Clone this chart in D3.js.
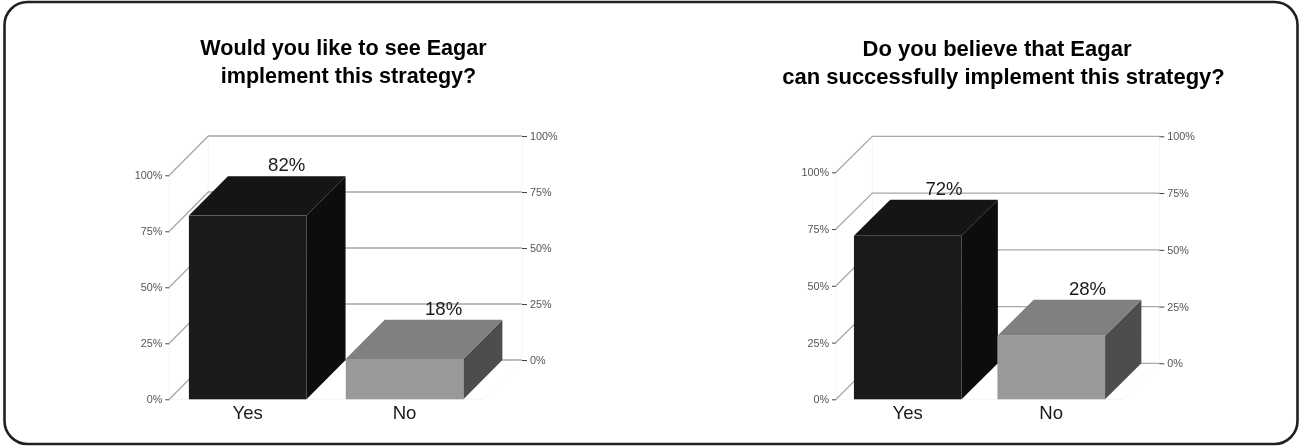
<!DOCTYPE html>
<html><head><meta charset="utf-8">
<script src="https://cdn.jsdelivr.net/npm/d3@7"></script>
<style>html,body{margin:0;padding:0;background:#fff}svg{display:block;filter:blur(0.35px)}text{font-family:"Liberation Sans",Arial,sans-serif}</style>
</head><body><svg id="c" width="1299" height="446"></svg>
<script>
const categories = ["Yes", "No"];
const valuesA = [82, 18];
const valuesB = [72, 28];
const tickValues = [0, 25, 50, 75, 100];
const titleA = ["Would you like to see Eagar", "implement this strategy?"];
const titleB = ["Do you believe that Eagar", "can successfully implement this strategy?"];

const svg = d3.select("#c");
svg.append("rect").attr("x",4.5).attr("y",2).attr("width",1293).attr("height",442).attr("rx",23)
  .attr("fill","#fff").attr("stroke","#231f20").attr("stroke-width",2.6);

function chart(values, title, o){
  const g = svg.append("g");
  const x = d3.scaleBand().domain(categories).range([o.left,o.right]).paddingInner(0.25).paddingOuter(0.125);
  const y = d3.scaleLinear().domain([0,100]).range([o.bottom,o.top]);
  const d = o.depth, dy = o.rise;

  // title
  g.append("g").selectAll("text").data(title).join("text")
    .attr("x",(l,i)=>o.titleX[i]).attr("y",(l,i)=>o.titleY+i*28)
    .attr("text-anchor","middle").attr("font-size",o.titleSize).attr("font-weight","bold").attr("fill","#000").text(l=>l);

  // faint walls and floor
  const faint = "#f5f5f5";
  const wall = g.append("g").attr("fill","none").attr("stroke",faint).attr("stroke-width",1);
  wall.append("path").attr("d",d3.line()([[o.left,y(0)],[o.left,y(100)]]));
  wall.append("path").attr("d",d3.line()([[o.left+d,y(0)-dy],[o.left+d,y(100)-dy]]));
  wall.append("path").attr("d",d3.line()([[o.right+d,y(0)-dy],[o.right+d,y(100)-dy]]));
  wall.append("path").attr("d",d3.line()([[o.left,y(0)],[o.right,y(0)],[o.right+d,y(0)-dy]]));

  // gridlines running along the side wall and the back wall
  g.append("g").selectAll("path").data(tickValues).join("path")
    .attr("fill","none").attr("stroke","#a8a8a8").attr("stroke-width",1.3)
    .attr("d",t=>d3.line()([[o.left,y(t)],[o.left+d,y(t)-dy],[o.right+d,y(t)-dy]]));

  // axes
  const fmt = t=>t+"%";
  const left = g.append("g").attr("transform",`translate(${o.left},0)`)
    .call(d3.axisLeft(y).tickValues(tickValues).tickFormat(fmt).tickSize(4).tickPadding(3));
  const yBack = d3.scaleLinear().domain([0,100]).range([o.bottom-dy,o.top-dy]);
  const right = g.append("g").attr("transform",`translate(${o.right+d},0)`)
    .call(d3.axisRight(yBack).tickValues(tickValues).tickFormat(fmt).tickSize(5).tickPadding(3));
  [left,right].forEach(a=>{
    a.select(".domain").remove();
    a.selectAll("line").attr("stroke","#444");
    a.selectAll("text").attr("font-size",10.8).attr("fill","#555").attr("font-family",'"Liberation Sans",Arial,sans-serif');
  });

  // bars
  const colors = [{front:"#1a1a1a",top:"#151515",side:"#0d0d0d"},{front:"#999999",top:"#808080",side:"#4d4d4d"}];
  const w = x.bandwidth();
  const bars = g.append("g").selectAll("g").data(categories).join("g");
  const poly = pts=>pts.map(p=>p.join(",")).join(" ");
  bars.append("polygon").attr("fill",(c,i)=>colors[i].side)
    .attr("points",(c,i)=>{const X=x(c)+w,T=y(values[i]),B=y(0);return poly([[X,B],[X,T],[X+d,T-dy],[X+d,B-dy]]);});
  bars.append("polygon").attr("fill",(c,i)=>colors[i].top)
    .attr("points",(c,i)=>{const X=x(c),T=y(values[i]);return poly([[X,T],[X+w,T],[X+w+d,T-dy],[X+d,T-dy]]);});
  bars.append("rect").attr("fill",(c,i)=>colors[i].front)
    .attr("x",c=>x(c)).attr("width",w)
    .attr("y",(c,i)=>y(values[i])).attr("height",(c,i)=>y(0)-y(values[i]));

  // data labels
  bars.append("text").attr("text-anchor","middle").attr("font-size",18.6).attr("fill","#1a1a1a")
    .attr("x",c=>x(c)+w/2+d).attr("y",(c,i)=>y(values[i])-dy-5).text((c,i)=>values[i]+"%");
  // categories
  bars.append("text").attr("text-anchor","middle").attr("font-size",18.6).attr("fill","#1a1a1a")
    .attr("x",c=>x(c)+w/2).attr("y",419).text(c=>c);
}

chart(valuesA,titleA,{left:169.3,right:483,bottom:399.3,top:175.3,depth:39,rise:39.3,titleX:[343.5,348.5],titleY:55,titleSize:21.6});
chart(valuesB,titleB,{left:836,right:1123,bottom:399.3,top:172.3,depth:36.3,rise:36,titleX:[997,1003.5],titleY:56,titleSize:22});
</script></body></html>
